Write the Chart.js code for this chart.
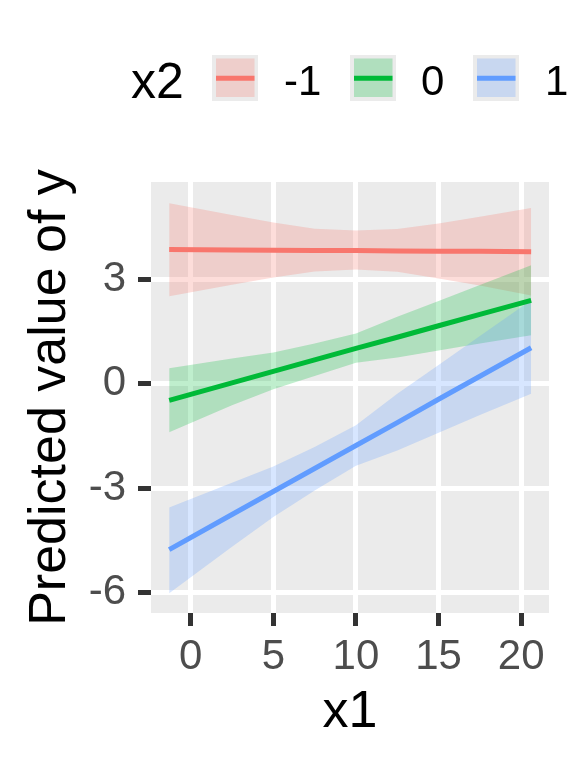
<!DOCTYPE html>
<html>
<head>
<meta charset="utf-8">
<script src="https://cdn.jsdelivr.net/npm/chart.js@4/dist/chart.umd.min.js"></script>
<style>
  html, body { margin: 0; padding: 0; background: #fff; }
  canvas { display: block; }
</style>
</head>
<body>
<canvas id="predChart" width="576" height="768"></canvas>
<script>
const x1Values = [-1.3, 2.5, 5, 7.5, 10, 12.5, 15, 17.5, 20.6];

// x2 = -1
const predNeg1 = [3.85, 3.84, 3.83, 3.82, 3.82, 3.81, 3.80, 3.80, 3.79];
const upperNeg1 = [5.18, 4.84, 4.63, 4.45, 4.40, 4.44, 4.60, 4.79, 5.04];
const lowerNeg1 = [2.51, 2.84, 3.05, 3.22, 3.28, 3.21, 3.02, 2.82, 2.53];

// x2 = 0
const predZero = [-0.48, 0.02, 0.35, 0.68, 1.01, 1.33, 1.66, 1.99, 2.39];
const upperZero = [0.44, 0.72, 0.89, 1.15, 1.44, 1.92, 2.37, 2.83, 3.40];
const lowerZero = [-1.40, -0.62, -0.16, 0.22, 0.60, 0.75, 0.95, 1.15, 1.39];

// x2 = 1
const predPos1 = [-4.77, -3.76, -3.10, -2.44, -1.78, -1.12, -0.45, 0.21, 1.03];
const upperPos1 = [-3.56, -2.85, -2.38, -1.82, -1.20, -0.29, 0.53, 1.37, 2.39];
const lowerPos1 = [-6.02, -4.69, -3.83, -3.07, -2.36, -1.92, -1.41, -0.90, -0.29];

const groupLabels = ['-1', '0', '1'];
const xTicks = [0, 5, 10, 15, 20];
const yTicks = [-6, -3, 0, 3];

const lineColors = ['#F8766D', '#00BA38', '#619CFF'];
const bandColors = ['rgba(248,118,109,0.25)', 'rgba(0,186,56,0.25)', 'rgba(97,156,255,0.25)'];

const FONT = '"Liberation Sans", Arial, sans-serif';

function pts(ys) {
    return x1Values.map((x, i) => ({ x: x, y: ys[i] }));
}

function lineSet(ys, color) {
    return {
        data: pts(ys),
        borderColor: color,
        borderWidth: 5,
        pointRadius: 0,
        fill: false,
        tension: 0
    };
}

function bandSet(ys, color, fill) {
    return {
        data: pts(ys),
        borderWidth: 0,
        borderColor: 'rgba(0,0,0,0)',
        backgroundColor: color,
        pointRadius: 0,
        fill: fill,
        tension: 0
    };
}

// blue listed first so it ends up on top (chart.js paints from the last dataset)
const datasets = [
    lineSet(predPos1, lineColors[2]),
    bandSet(upperPos1, bandColors[2], '+1'),
    bandSet(lowerPos1, bandColors[2], false),
    lineSet(predZero, lineColors[1]),
    bandSet(upperZero, bandColors[1], '+1'),
    bandSet(lowerZero, bandColors[1], false),
    lineSet(predNeg1, lineColors[0]),
    bandSet(upperNeg1, bandColors[0], '+1'),
    bandSet(lowerNeg1, bandColors[0], false)
];

const panelBg = {
    id: 'panelBg',
    beforeDraw(chart) {
        const a = chart.chartArea;
        const ctx = chart.ctx;
        ctx.save();
        ctx.fillStyle = '#EBEBEB';
        ctx.fillRect(a.left, a.top, a.right - a.left, a.bottom - a.top);
        ctx.restore();
    }
};

// ggplot style legend on top: title, then key boxes with ribbon + line
const topLegend = {
    id: 'topLegend',
    afterDraw(chart) {
        const ctx = chart.ctx;
        ctx.save();
        ctx.fillStyle = '#000';
        ctx.textBaseline = 'alphabetic';
        ctx.font = '50px ' + FONT;
        ctx.fillText('x2', 131, 98);
        const boxX = [212, 350, 473];
        const labelX = [284, 421, 545];
        ctx.font = '42px ' + FONT;
        groupLabels.forEach((lab, i) => {
            const bx = boxX[i];
            ctx.fillStyle = '#EBEBEB';
            ctx.fillRect(bx, 55, 46, 46);
            ctx.fillStyle = bandColors[i];
            ctx.fillRect(bx + 4, 58.5, 38.5, 38.5);
            ctx.strokeStyle = lineColors[i];
            ctx.lineWidth = 5;
            ctx.beginPath();
            ctx.moveTo(bx + 4, 78.3);
            ctx.lineTo(bx + 42.5, 78.3);
            ctx.stroke();
            ctx.fillStyle = '#000';
            ctx.fillText(lab, labelX[i], 95);
        });
        ctx.restore();
    }
};

const ctx = document.getElementById('predChart').getContext('2d');
const predChart = new Chart(ctx, {
    type: 'line',
    data: { datasets: datasets },
    plugins: [panelBg, topLegend],
    options: {
        responsive: false,
        animation: false,
        devicePixelRatio: 1,
        layout: { padding: { top: 182, right: 27, left: 0, bottom: 0 } },
        plugins: {
            legend: { display: false },
            tooltip: { enabled: false },
            filler: { drawTime: 'beforeDatasetsDraw' }
        },
        scales: {
            x: {
                type: 'linear',
                min: -2.40,
                max: 21.68,
                afterBuildTicks: (s) => { s.ticks = xTicks.map(v => ({ value: v })); },
                afterFit: (s) => { s.height = 155; },
                border: { display: false },
                grid: {
                    color: '#FFFFFF',
                    lineWidth: 5,
                    tickColor: '#333333',
                    tickWidth: 5,
                    tickLength: 13
                },
                ticks: {
                    color: '#4D4D4D',
                    font: { family: FONT, size: 42 },
                    padding: 6,
                    maxRotation: 0
                },
                title: {
                    display: true,
                    text: 'x1',
                    color: '#000',
                    font: { family: FONT, size: 52 },
                    padding: { top: 0, bottom: 24 }
                }
            },
            y: {
                type: 'linear',
                min: -6.59,
                max: 5.79,
                afterBuildTicks: (s) => { s.ticks = yTicks.map(v => ({ value: v })); },
                afterFit: (s) => { s.width = 151; },
                border: { display: false },
                grid: {
                    color: '#FFFFFF',
                    lineWidth: 5,
                    tickColor: '#333333',
                    tickWidth: 5,
                    tickLength: 13
                },
                ticks: {
                    color: '#4D4D4D',
                    font: { family: FONT, size: 42 },
                    padding: 12
                },
                title: {
                    display: true,
                    text: 'Predicted value of y',
                    color: '#000',
                    font: { family: FONT, size: 52 },
                    padding: { top: 19, bottom: 0 }
                }
            }
        }
    }
});
</script>
</body>
</html>
